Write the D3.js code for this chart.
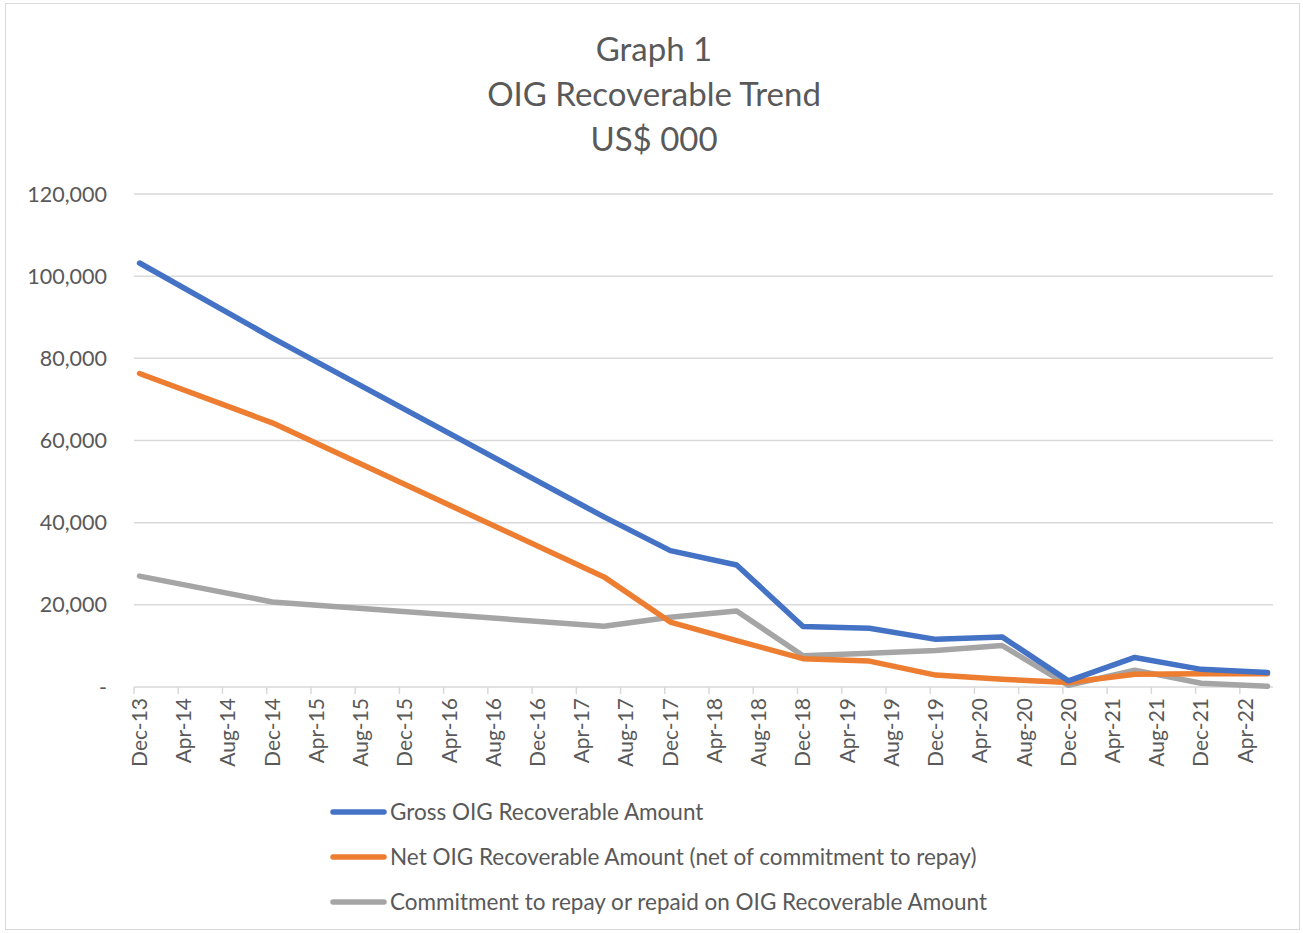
<!DOCTYPE html>
<html>
<head>
<meta charset="utf-8">
<script src="https://cdn.jsdelivr.net/npm/d3@7"></script>
<style>
  html, body { margin: 0; padding: 0; background: #fff; }
  #graph { width: 1303px; height: 933px; }
  text { font-family: Lato, 'Open Sans', sans-serif; fill: #595959; }
  .grid line, .axis line { stroke: #d9d9d9; stroke-width: 1.5; }
  .series { fill: none; stroke-width: 5.5; stroke-linejoin: round; stroke-linecap: round; }
</style>
</head>
<body>
<div id="graph"></div>
<script>
// data (US$ 000)
var pointDates  = ['Dec-13', 'Dec-14', 'Jun-17', 'Dec-17', 'Jun-18', 'Dec-18', 'Jun-19', 'Dec-19', 'Jun-20', 'Dec-20', 'Jun-21', 'Dec-21', 'Jun-22'];
var grossValues = [103200, 85000, 41400, 33200, 29700, 14700, 14300, 11600, 12200, 1500, 7200, 4300, 3500];
var netValues   = [76300, 64300, 26800, 15800, 11300, 6900, 6300, 2900, 1900, 1100, 3100, 3200, 3200];
var commitValues = [27000, 20700, 14800, 17000, 18500, 7600, 8200, 8900, 10100, 400, 4100, 900, 200];
var yTicks = [0, 20000, 40000, 60000, 80000, 100000, 120000];
var titleLines = ['Graph 1', 'OIG Recoverable Trend', 'US$ 000'];
var seriesNames = [
  'Gross OIG Recoverable Amount',
  'Net OIG Recoverable Amount (net of commitment to repay)',
  'Commitment to repay or repaid on OIG Recoverable Amount'
];
var seriesColors = ['#4472c4', '#ed7d31', '#a5a5a5'];

var LineGraph = function( _id ) {

  var that = this;

  that.id = _id;
  that.widthCont = 1303;
  that.heightCont = 933;
  that.plot = {left: 134, right: 1273, top: 194, bottom: 687};

  that.init = function() {

    var fmt = d3.timeFormat('%b-%y');

    // one slot per month, like the date axis of the original
    var months = d3.timeMonth.range(new Date(2013, 11, 1), new Date(2022, 6, 1)).map(fmt);

    that.x = d3.scaleBand()
      .domain(months)
      .range([that.plot.left, that.plot.right])
      .paddingInner(0)
      .paddingOuter(0);

    that.y = d3.scaleLinear()
      .domain([0, 120000])
      .range([that.plot.bottom, that.plot.top]);

    that.svg = d3.select('#'+that.id).append('svg')
      .attr('width', that.widthCont)
      .attr('height', that.heightCont);

    that.svg.append('rect')
      .attr('x', 5.5).attr('y', 3.5)
      .attr('width', 1294).attr('height', 926)
      .attr('fill', '#fff')
      .attr('stroke', '#d9d9d9')
      .attr('stroke-width', 1);

    // Title
    that.svg.append('g')
      .selectAll('text')
      .data(titleLines)
    .enter().append('text')
      .attr('x', 654)
      .attr('y', function(d, i) { return 61 + i * 45; })
      .attr('text-anchor', 'middle')
      .style('font-size', '33px')
      .text(function(d) { return d; });

    // Gridlines
    that.svg.append('g')
      .attr('class', 'grid')
      .selectAll('line')
      .data(yTicks.filter(function(d) { return d > 0; }))
    .enter().append('line')
      .attr('x1', that.plot.left)
      .attr('x2', that.plot.right)
      .attr('y1', function(d) { return that.y(d); })
      .attr('y2', function(d) { return that.y(d); });

    // Y labels
    that.svg.append('g')
      .selectAll('text')
      .data(yTicks)
    .enter().append('text')
      .attr('x', 107)
      .attr('y', function(d) { return that.y(d); })
      .attr('dy', '0.35em')
      .attr('text-anchor', 'end')
      .style('font-size', '21.5px')
      .text(function(d) { return d === 0 ? '-' : d3.format(',')(d); });

    // X axis
    var tickMonths = months.filter(function(d, i) { return i % 4 === 0; });
    var ax = that.svg.append('g').attr('class', 'axis');

    ax.append('line')
      .attr('x1', that.plot.left)
      .attr('x2', that.plot.right)
      .attr('y1', that.plot.bottom)
      .attr('y2', that.plot.bottom);

    ax.selectAll('.tick')
      .data(tickMonths)
    .enter().append('line')
      .attr('class', 'tick')
      .attr('x1', function(d) { return that.x(d); })
      .attr('x2', function(d) { return that.x(d); })
      .attr('y1', that.plot.bottom)
      .attr('y2', that.plot.bottom + 7);

    ax.selectAll('.tick-label')
      .data(tickMonths)
    .enter().append('text')
      .attr('class', 'tick-label')
      .attr('transform', function(d) {
        return 'translate(' + (that.x(d) + that.x.bandwidth() / 2) + ',' + (that.plot.bottom + 11) + ') rotate(-90)';
      })
      .attr('dy', '0.35em')
      .attr('text-anchor', 'end')
      .style('font-size', '21px')
      .text(function(d) { return d; });

    // Lines
    var series = [grossValues, netValues, commitValues];

    var line = d3.line()
      .x(function(d, i) { return that.x(pointDates[i]) + that.x.bandwidth() / 2; })
      .y(function(d) { return that.y(d); });

    that.svg.append('g')
      .selectAll('.series')
      .data(series.slice().reverse())
    .enter().append('path')
      .attr('class', 'series')
      .attr('stroke', function(d, i) { return seriesColors[2 - i]; })
      .attr('d', line);

    // Legend
    var lg = that.svg.append('g')
      .selectAll('g')
      .data(seriesNames)
    .enter().append('g')
      .attr('transform', function(d, i) { return 'translate(0,' + (812 + i * 45) + ')'; });

    lg.append('line')
      .attr('x1', 333).attr('x2', 384)
      .attr('y1', 0).attr('y2', 0)
      .attr('stroke', function(d, i) { return seriesColors[i]; })
      .attr('stroke-width', 5.5)
      .attr('stroke-linecap', 'round');

    lg.append('text')
      .attr('x', 390)
      .attr('dy', '0.35em')
      .style('font-size', '22.5px')
      .text(function(d) { return d; });

    return that;
  };

  return that;
};

new LineGraph('graph').init();
</script>
</body>
</html>
